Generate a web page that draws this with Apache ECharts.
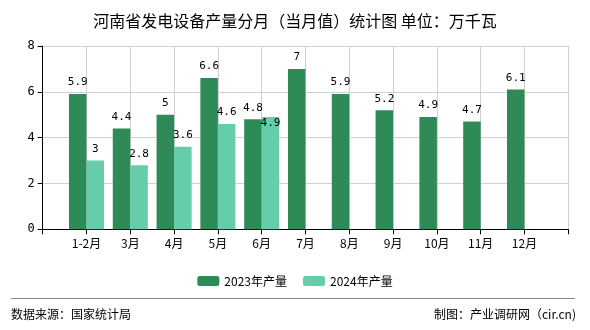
<!DOCTYPE html>
<html>
<head>
<meta charset="utf-8">
<script src="https://cdn.jsdelivr.net/npm/echarts@6/dist/echarts.min.js"></script>
<style>html,body{margin:0;padding:0;background:#fff;}#c{width:590px;height:330px;}</style>
</head>
<body>
<div id="c"></div>
<script>
// categories (padded with empty slots at both ends, as in the reference axis)
var categories = ['', '1-2月', '3月', '4月', '5月', '6月', '7月', '8月', '9月', '10月', '11月', '12月', ''];
var values2023 = [null, 5.9, 4.4, 5, 6.6, 4.8, 7, 5.9, 5.2, 4.9, 4.7, 6.1, null];
var values2024 = [null, 3, 2.8, 3.6, 4.6, 4.9, null, null, null, null, null, null, null];
var yTicks = [0, 2, 4, 6, 8];
var seriesNames = ['2023年产量', '2024年产量'];
var titleText = '河南省发电设备产量分月（当月值）统计图 单位：万千瓦';
var sourceText = '数据来源：国家统计局';
var makerText = '制图：产业调研网（cir.cn)';

var chart = echarts.init(document.getElementById('c'));
var labelStyle = {show: true, position: 'top', distance: 6, color: '#000', fontSize: 11, fontFamily: 'DejaVu Sans Mono, monospace'};
var d2024 = values2024.map(function (v, i) {
  if (i === 5) return {value: v, label: {offset: [0, 18]}};
  return v;
});
chart.setOption({
  animation: false,
  backgroundColor: '#fff',
  title: {
    text: titleText, left: 'center', top: 8,
    textStyle: {fontSize: 16, fontWeight: 'normal', color: '#000', fontFamily: 'Noto Sans CJK SC'}
  },
  legend: {
    data: seriesNames, left: 'center', top: 270, itemWidth: 22, itemHeight: 10, itemGap: 16,
    textStyle: {fontSize: 12, color: '#000', fontFamily: 'Noto Sans CJK SC'}
  },
  grid: {left: 42.7, right: 21.7, top: 46, bottom: 100.7, containLabel: false},
  xAxis: {
    type: 'category', data: categories, boundaryGap: false,
    axisLine: {lineStyle: {color: '#000'}},
    axisTick: {show: true, length: 5, lineStyle: {color: '#000'}},
    axisLabel: {color: '#000', fontSize: 12, interval: 0, fontFamily: 'Noto Sans CJK SC'},
    splitLine: {show: true, lineStyle: {color: '#d0d0d0'}}
  },
  yAxis: {
    type: 'value', min: yTicks[0], max: yTicks[yTicks.length - 1], interval: 2,
    axisLine: {show: true, lineStyle: {color: '#000'}},
    axisTick: {show: true, length: 5, lineStyle: {color: '#000'}},
    axisLabel: {color: '#000', fontSize: 12, fontFamily: 'DejaVu Sans Mono, monospace'},
    splitLine: {show: true, lineStyle: {color: '#d0d0d0'}}
  },
  series: [
    {name: seriesNames[0], type: 'bar', data: values2023, barGap: '0%', barCategoryGap: '20%',
     itemStyle: {color: '#2e8b57'}, label: labelStyle},
    {name: seriesNames[1], type: 'bar', data: d2024, barGap: '0%', barCategoryGap: '20%',
     itemStyle: {color: '#66cdaa'}, label: labelStyle}
  ],
  graphic: [
    {type: 'line', shape: {x1: 11, y1: 298.5, x2: 575, y2: 298.5}, style: {stroke: '#888', lineWidth: 1}},
    {type: 'text', left: 11, top: 308, style: {text: sourceText, fontSize: 12, fill: '#000', fontFamily: 'Noto Sans CJK SC'}},
    {type: 'text', right: 14, top: 308, style: {text: makerText, fontSize: 12, fill: '#000', fontFamily: 'Noto Sans CJK SC'}}
  ]
});
</script>
</body>
</html>
